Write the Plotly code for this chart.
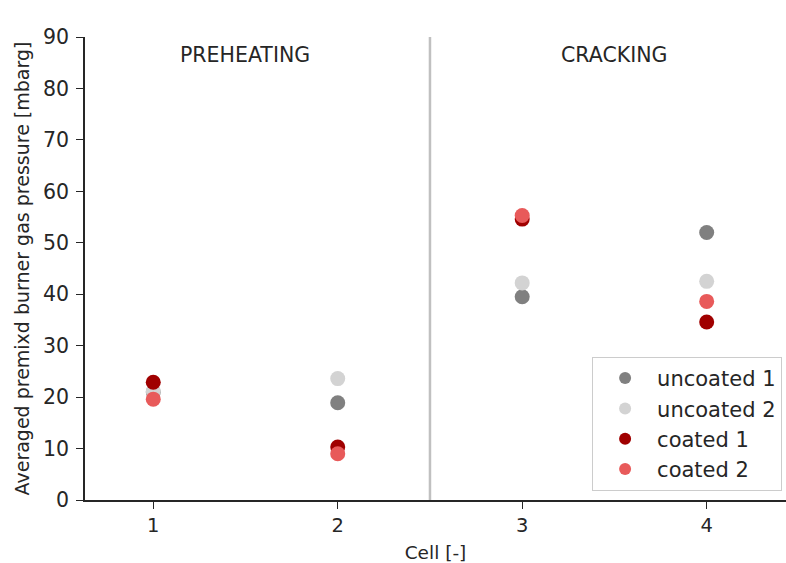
import plotly.graph_objects as go

# Measured averaged premixed burner gas pressure per cell [mbarg]
cells = [1, 2, 3, 4]
uncoated_1 = [21.0, 18.9, 39.5, 52.0]
uncoated_2 = [21.2, 23.6, 42.2, 42.5]
coated_1 = [22.9, 10.3, 54.6, 34.6]
coated_2 = [19.6, 9.0, 55.3, 38.6]

series_names = ["uncoated 1", "uncoated 2", "coated 1", "coated 2"]
series_values = [uncoated_1, uncoated_2, coated_1, coated_2]
series_colors = ["#808080", "#d3d3d3", "#a00000", "#e85a5a"]

section_labels = ["PREHEATING", "CRACKING"]
section_centers = [1.5, 3.5]
section_split = 2.5

FONT = "DejaVu Sans"
TEXT = "#262626"

fig = go.Figure()

for name, vals, col in zip(series_names, series_values, series_colors):
    fig.add_trace(go.Scatter(
        x=cells, y=vals, mode="markers", name=name,
        marker=dict(color=col, size=15, line=dict(width=0)),
    ))

# Divider between the two furnace sections
fig.add_shape(type="line", x0=section_split, x1=section_split, y0=0, y1=90,
              xref="x", yref="y", line=dict(color="#c0c0c0", width=2.5), layer="below")

for lab, xc in zip(section_labels, section_centers):
    fig.add_annotation(x=xc, y=86.5, xref="x", yref="y", text=lab, showarrow=False,
                       font=dict(family=FONT, size=20.5, color=TEXT))

fig.update_layout(
    width=786, height=563,
    margin=dict(l=85, r=0, t=37, b=63),
    plot_bgcolor="white", paper_bgcolor="white",
    font=dict(family=FONT, size=18.5, color=TEXT),
    showlegend=True,
    legend=dict(
        x=0.7234, y=0.309, xanchor="left", yanchor="top",
        bgcolor="white", bordercolor="#cccccc", borderwidth=1,
        font=dict(family=FONT, size=21, color=TEXT),
        itemsizing="constant", itemwidth=54,
    ),
)

fig.update_xaxes(
    range=[0.63, 4.43], tickvals=cells, ticktext=[str(c) for c in cells],
    showline=True, linecolor="#262626", linewidth=1.5, mirror=False,
    ticks="outside", ticklen=7, tickcolor="#262626", tickwidth=1.4,
    showgrid=False, zeroline=False, tickfont=dict(size=19.5),
    title=dict(text="Cell [-]", font=dict(family=FONT, size=18.5, color=TEXT), standoff=10),
)
fig.update_yaxes(
    range=[0, 90], tickvals=list(range(0, 91, 10)),
    showline=True, linecolor="#262626", linewidth=1.5, mirror=False,
    ticks="outside", ticklen=7, tickcolor="#262626", tickwidth=1.4,
    showgrid=False, zeroline=False, tickfont=dict(size=20.5),
    ticklabelstandoff=3,
    title=dict(text="Averaged premixd burner gas pressure [mbarg]",
               font=dict(family=FONT, size=19, color=TEXT), standoff=8),
)

fig.write_html("out.html")
